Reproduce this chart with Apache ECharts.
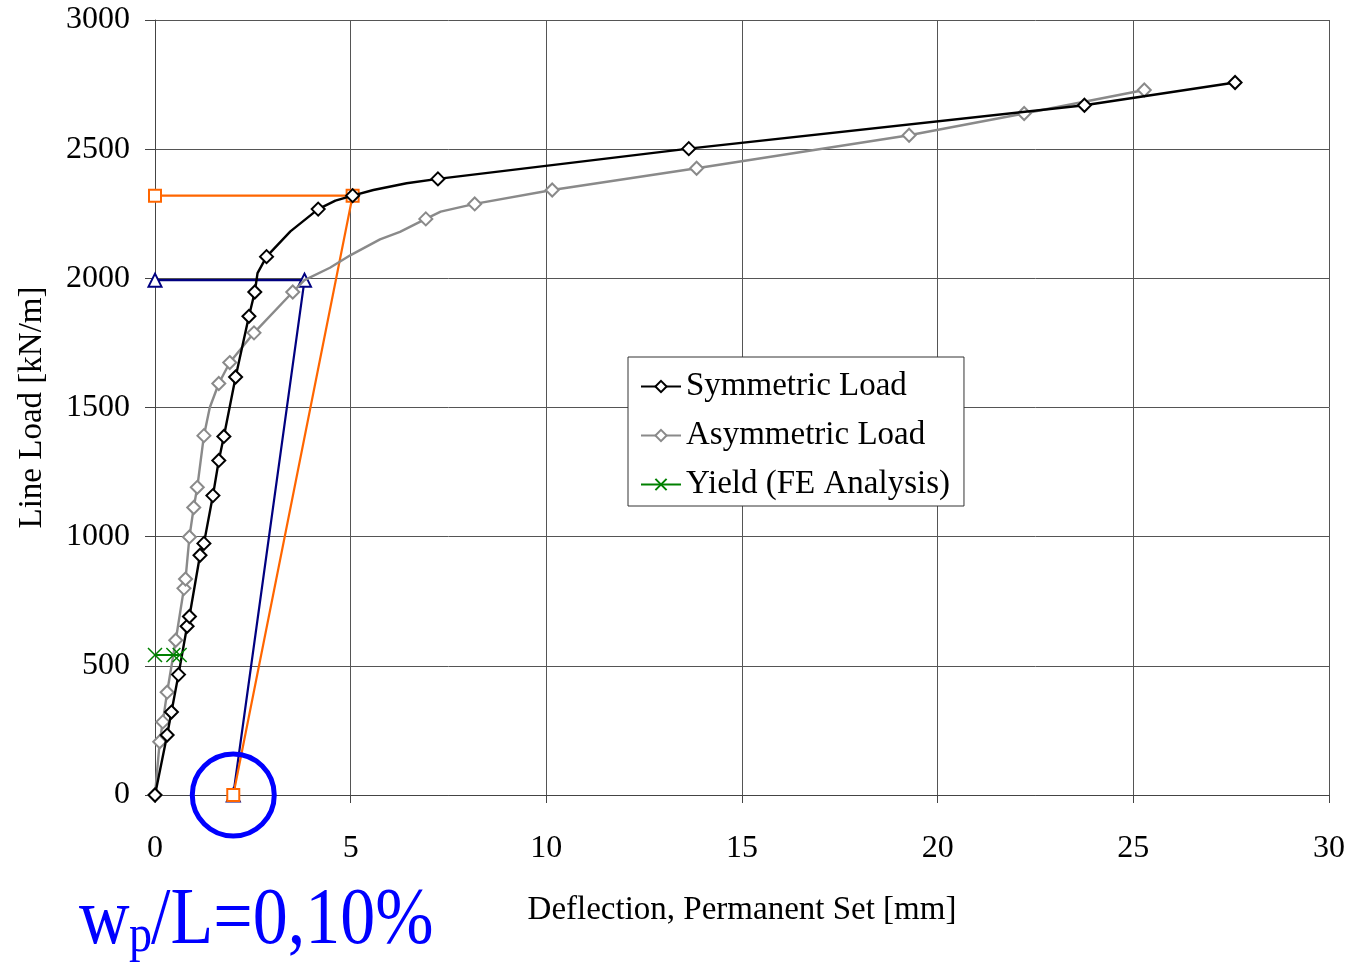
<!DOCTYPE html>
<html>
<head>
<meta charset="utf-8">
<script src="https://cdn.jsdelivr.net/npm/echarts@6/dist/echarts.min.js"></script>
<style>
  html, body { margin: 0; padding: 0; background: #fff; }
  #chart { width: 1352px; height: 969px; }
</style>
</head>
<body>
<div id="chart"></div>
<script>
// symmetric load: points with markers, plus unmarked points along the curve
var symMarkX = [0, 0.31, 0.42, 0.60, 0.82, 0.88, 1.15, 1.25, 1.48, 1.63, 1.76, 2.06, 2.40, 2.55, 2.85, 4.17, 5.05, 7.23, 13.64, 23.75, 27.6];
var symMarkY = [0, 232, 321, 466, 653, 691, 928, 974, 1159, 1295, 1388, 1618, 1853, 1947, 2084, 2268, 2320, 2385, 2502, 2670, 2758];
var symBendX = [2.62, 3.46, 4.61, 5.58, 6.43];
var symBendY = [2020, 2182, 2301, 2342, 2368];

// asymmetric load
var asymMarkX = [0, 0.12, 0.20, 0.31, 0.53, 0.74, 0.78, 0.88, 0.99, 1.08, 1.25, 1.63, 1.91, 2.53, 3.52, 6.92, 8.17, 10.15, 13.84, 19.27, 22.21, 25.28];
var asymMarkY = [0, 206, 283, 398, 599, 800, 836, 999, 1113, 1191, 1391, 1593, 1674, 1789, 1947, 2230, 2288, 2342, 2426, 2554, 2638, 2729];
var asymBendX = [1.40, 3.82, 4.47, 5.0, 5.75, 6.26, 7.3];
var asymBendY = [1500, 1993, 2041, 2090, 2151, 2180, 2258];

// yield (FE analysis)
var yieldX = [0, 0.47, 0.63];
var yieldY = [542, 542, 542];

// unloading lines to the permanent set
var blueX = [0, 3.82, 2.0];
var blueY = [1993, 1993, 0];
var orangeX = [0, 5.05, 2.0];
var orangeY = [2320, 2320, 0];

// highlighted permanent set
var setX = [2.0];
var setY = [0];

var serif = '"Liberation Serif", "Times New Roman", serif';

function buildCurve(mx, my, bx, by) {
  var pts = [];
  mx.forEach(function (x, i) { pts.push({ value: [x, my[i]] }); });
  bx.forEach(function (x, i) { pts.push({ value: [x, by[i]], symbol: 'none' }); });
  pts.sort(function (a, b) { return a.value[0] - b.value[0]; });
  return pts;
}
function zip(xs, ys) {
  return xs.map(function (x, i) { return [x, ys[i]]; });
}

var crossPath = 'path://M0,0L10,10M10,0L0,10';

var chart = echarts.init(document.getElementById('chart'));
var option = {
  animation: false,
  backgroundColor: '#fff',
  grid: { left: 155, right: 23, top: 20, bottom: 174, containLabel: false },
  legend: {
    data: ['Symmetric Load', 'Asymmetric Load', 'Yield (FE Analysis)'],
    orient: 'vertical',
    left: 628,
    top: 357,
    itemWidth: 40,
    itemHeight: 14,
    itemGap: 16,
    padding: [13, 14, 5, 12],
    backgroundColor: '#fff',
    borderColor: '#333',
    borderWidth: 1,
    borderRadius: 0,
    textStyle: { fontFamily: serif, fontSize: 33, color: '#000' }
  },
  xAxis: {
    type: 'value',
    min: 0,
    max: 30,
    interval: 5,
    name: 'Deflection, Permanent Set [mm]',
    nameLocation: 'middle',
    nameGap: 99,
    nameTextStyle: { fontFamily: serif, fontSize: 33, color: '#000' },
    axisLine: { lineStyle: { color: '#444', width: 1 } },
    axisTick: { show: true, length: 8, lineStyle: { color: '#444' } },
    axisLabel: { fontFamily: serif, fontSize: 32, color: '#000', margin: 38 },
    splitLine: { show: true, lineStyle: { color: '#555', width: 1 } }
  },
  yAxis: {
    type: 'value',
    min: 0,
    max: 3000,
    interval: 500,
    name: 'Line Load [kN/m]',
    nameLocation: 'middle',
    nameGap: 106,
    nameTextStyle: { fontFamily: serif, fontSize: 33, color: '#000' },
    axisLine: { show: true, lineStyle: { color: '#444', width: 1 } },
    axisTick: { show: true, length: 10, lineStyle: { color: '#444' } },
    axisLabel: {
      fontFamily: serif, fontSize: 32, color: '#000', margin: 25,
      formatter: function (v) { return String(v); }
    },
    splitLine: { show: true, lineStyle: { color: '#555', width: 1 } }
  },
  graphic: [
    { type: 'text', x: 79, y: 922, scaleY: 1.15,
      style: { text: 'w', font: '70px ' + serif, fill: '#0000ff', verticalAlign: 'middle', align: 'left' } },
    { type: 'text', x: 129, y: 937, scaleY: 1.15,
      style: { text: 'p', font: '46px ' + serif, fill: '#0000ff', verticalAlign: 'middle', align: 'left' } },
    { type: 'text', x: 151, y: 922, scaleY: 1.15,
      style: { text: '/L=0,10%', font: '70px ' + serif, fill: '#0000ff', verticalAlign: 'middle', align: 'left' } }
  ],
  series: [
    {
      name: 'Blue unload',
      type: 'line',
      data: zip(blueX, blueY),
      clip: false,
      symbol: 'emptyTriangle',
      symbolSize: 13,
      lineStyle: { color: '#000080', width: 2.2 },
      itemStyle: { color: '#000080', borderWidth: 1.5 },
      z: 3
    },
    {
      name: 'Orange unload',
      type: 'line',
      data: zip(orangeX, orangeY),
      clip: false,
      symbol: 'emptyRect',
      symbolSize: 12,
      lineStyle: { color: '#ff6600', width: 2.2 },
      itemStyle: { color: '#ff6600', borderWidth: 1.5 },
      z: 3
    },
    {
      name: 'Asymmetric Load',
      type: 'line',
      data: buildCurve(asymMarkX, asymMarkY, asymBendX, asymBendY),
      clip: false,
      symbol: 'emptyDiamond',
      symbolSize: 13,
      lineStyle: { color: '#8a8a8a', width: 2.4 },
      itemStyle: { color: '#8a8a8a', borderWidth: 1.5 },
      z: 4
    },
    {
      name: 'Symmetric Load',
      type: 'line',
      data: buildCurve(symMarkX, symMarkY, symBendX, symBendY),
      clip: false,
      symbol: 'emptyDiamond',
      symbolSize: 13,
      lineStyle: { color: '#000', width: 2.4 },
      itemStyle: { color: '#000', borderWidth: 1.5 },
      z: 5
    },
    {
      name: 'Yield (FE Analysis)',
      type: 'line',
      data: zip(yieldX, yieldY),
      clip: false,
      symbol: crossPath,
      symbolSize: 14,
      showAllSymbol: true,
      lineStyle: { color: '#008000', width: 2.2 },
      itemStyle: { color: 'none', borderColor: '#008000', borderWidth: 1.5 },
      z: 6
    },
    {
      name: 'Permanent set',
      type: 'scatter',
      data: zip(setX, setY),
      clip: false,
      symbol: 'circle',
      symbolSize: 82,
      itemStyle: { color: 'transparent', borderColor: '#0000ff', borderWidth: 5, opacity: 1 },
      silent: true,
      z: 7
    }
  ]
};
chart.setOption(option);
</script>
</body>
</html>
